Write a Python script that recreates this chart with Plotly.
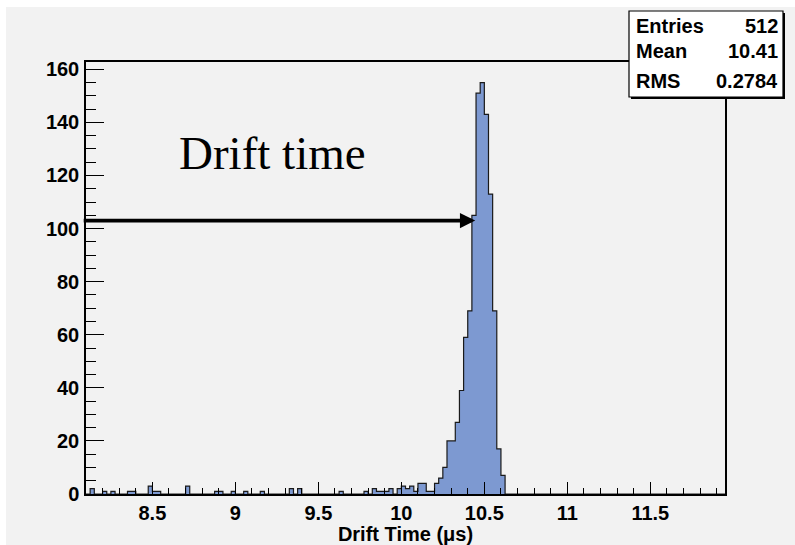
import numpy as np
import plotly.graph_objects as go

# Histogram binning (microseconds)
x_low = 8.10
x_high = 11.95
bin_width = 0.025

# Non-empty bins: lower edge (us) and entries
bin_lower_edges = [8.125, 8.200, 8.250, 8.350, 8.375, 8.475, 8.500, 8.525, 8.700,
                   8.875, 8.900, 8.975, 9.050, 9.150, 9.325, 9.375, 9.625, 9.775,
                   9.825, 9.850, 9.875, 9.900, 9.925, 9.975, 10.000, 10.025, 10.050,
                   10.075, 10.100, 10.125, 10.150, 10.175, 10.200, 10.225, 10.250,
                   10.275, 10.300, 10.325, 10.350, 10.375, 10.400, 10.425, 10.450,
                   10.475, 10.500, 10.525, 10.550, 10.575, 10.600]
bin_counts = [2, 1, 1, 1, 1, 3, 1, 1, 3,
              1, 1, 1, 1, 1, 2, 2, 1, 1,
              2, 1, 1, 1, 2, 2, 3, 2, 3,
              1, 4, 4, 1, 1, 4, 6, 10,
              20, 20, 27, 39, 59, 69, 105, 151,
              155, 143, 113, 69, 17, 7]

# Statistics box
stat_names = ["Entries", "Mean", "RMS"]
stat_values = ["512", "10.41", "0.2784"]

# Annotation
label_text = "Drift time"
arrow_x = 10.445
arrow_y = 103

# Axis ticks
x_tick_step = 0.5
x_minor_step = 0.1
y_tick_step = 20
y_minor_step = 5

# ---- build the full histogram ----
n_bins = int(round((x_high - x_low) / bin_width))
edges = x_low + bin_width * np.arange(n_bins + 1)
counts = np.zeros(n_bins)
for lo, c in zip(bin_lower_edges, bin_counts):
    counts[int(round((lo - x_low) / bin_width))] = c

# step outline polygon
xs = np.concatenate([[edges[0]], np.repeat(edges, 2)[1:-1], [edges[-1]]])
ys = np.concatenate([[0], np.repeat(counts, 2), [0]])

y_max = counts.max() * 1.05

W, H = 795, 545
L, R, T, B = 86, 70, 62, 51
pw, ph = W - L - R, H - T - B


def px(xp):
    return (xp - L) / pw


def py(yp):
    return (H - B - yp) / ph


BG = "#f2f2f2"
FILL = "#7d99d1"
font_bold = dict(family="Liberation Sans, Arial, sans-serif", size=20,
                 color="black", weight="bold")

fig = go.Figure()
fig.add_trace(go.Scatter(
    x=xs, y=ys, mode="lines", fill="tozeroy", fillcolor=FILL,
    line=dict(color="#1a1a1a", width=1.2), hoverinfo="skip", showlegend=False,
))

shapes = [
    # canvas background with thin white border at top/left
    dict(type="rect", xref="paper", yref="paper", layer="below",
         x0=px(6), x1=px(W + 5), y0=py(H + 5), y1=py(7),
         fillcolor=BG, line=dict(width=0)),
    # stats box shadow and box
    dict(type="rect", xref="paper", yref="paper", layer="above",
         x0=px(631), x1=px(785), y0=py(99), y1=py(13),
         fillcolor="black", line=dict(width=0)),
    dict(type="rect", xref="paper", yref="paper", layer="above",
         x0=px(629), x1=px(783), y0=py(97), y1=py(11),
         fillcolor="white", line=dict(color="black", width=1.2)),
]

annotations = []
row_y = [26, 51, 81]
for name, val, yy in zip(stat_names, stat_values, row_y):
    annotations.append(dict(xref="paper", yref="paper", x=px(634), y=py(yy),
                            text=name, showarrow=False, xanchor="left",
                            yanchor="middle", font=font_bold))
    annotations.append(dict(xref="paper", yref="paper", x=px(780), y=py(yy),
                            text=val, showarrow=False, xanchor="right",
                            yanchor="middle", font=font_bold))

annotations.append(dict(xref="paper", yref="paper", x=px(272), y=py(153),
                        text=label_text, showarrow=False, xanchor="center",
                        yanchor="middle",
                        font=dict(family="Liberation Serif, Times New Roman, serif",
                                  size=47, color="black")))

annotations.append(dict(x=arrow_x, y=arrow_y, xref="x", yref="y",
                        ax=-393, ay=0, text="", showarrow=True,
                        arrowhead=2, arrowsize=0.85, arrowwidth=3.6,
                        arrowcolor="black", standoff=0, startstandoff=0))

fig.update_layout(
    width=W, height=H,
    margin=dict(l=L, r=R, t=T, b=B, pad=0),
    paper_bgcolor="white",
    plot_bgcolor=BG,
    shapes=shapes,
    annotations=annotations,
    showlegend=False,
)

fig.update_xaxes(
    range=[x_low, x_high],
    tick0=8.0, dtick=x_tick_step,
    ticks="inside", ticklen=12, tickwidth=1, tickcolor="black",
    minor=dict(ticks="inside", ticklen=6, dtick=x_minor_step, tick0=8.0,
               tickcolor="black", tickwidth=1, showgrid=False),
    showline=True, linecolor="black", linewidth=1.5, mirror=True,
    showgrid=False, zeroline=False, automargin=False,
    tickfont=font_bold, ticklabelstandoff=0,
    title=dict(text="Drift Time (μs)", font=font_bold, standoff=1),
)
fig.update_yaxes(
    range=[0, y_max],
    tick0=0, dtick=y_tick_step,
    ticks="inside", ticklen=18, tickwidth=1, tickcolor="black",
    minor=dict(ticks="inside", ticklen=10, dtick=y_minor_step, tick0=0,
               tickcolor="black", tickwidth=1, showgrid=False),
    showline=True, linecolor="black", linewidth=1.5, mirror=True,
    showgrid=False, zeroline=False, automargin=False,
    tickfont=font_bold, ticklabelstandoff=1,
)

fig.write_html("out.html")
